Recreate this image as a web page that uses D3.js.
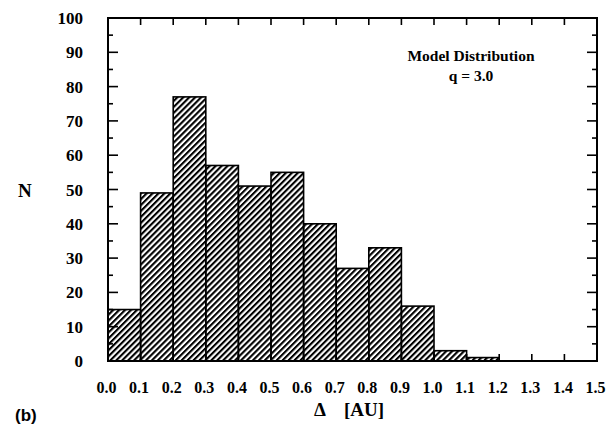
<html>
<script src='https://d3js.org/d3.v7.min.js'></script>
<style>
  body {margin: 0; background: #fff;}
  text {font-family: 'Liberation Serif', 'Times New Roman', serif; font-weight: bold; fill: #000;}
</style>
<body onload='init()'>
<svg width=613 height=424></svg>
<script>
// histogram bins: lower edge of each bin (AU) and counts
var binStart = [0.0, 0.1, 0.2, 0.3, 0.4, 0.5, 0.6, 0.7, 0.8, 0.9, 1.0, 1.1];
var counts   = [15, 49, 77, 57, 51, 55, 40, 27, 33, 16, 3, 1];
var binWidth = 0.1;
var xTicks = [0.0, 0.1, 0.2, 0.3, 0.4, 0.5, 0.6, 0.7, 0.8, 0.9, 1.0, 1.1, 1.2, 1.3, 1.4, 1.5];
var yTicks = [0, 10, 20, 30, 40, 50, 60, 70, 80, 90, 100];
var yMinor = [5, 15, 25, 35, 45, 55, 65, 75, 85, 95];

function init() {
  var svg = d3.select("svg");
  var x = d3.scaleLinear().domain([0, 1.5]).range([108, 597]);
  var y = d3.scaleLinear().domain([0, 100]).range([361, 18]);

  var defs = svg.append("defs");
  defs.append("pattern").attr("id", "hatch")
    .attr("patternUnits", "userSpaceOnUse")
    .attr("width", 4.2).attr("height", 4.2)
    .attr("patternTransform", "rotate(45)")
    .append("rect").attr("x", 0).attr("y", 0)
    .attr("width", 2.1).attr("height", 4.2).attr("fill", "#000");

  // bars
  svg.append("g").selectAll("rect").data(counts).enter().append("rect")
    .attr("x", function(d, i){ return x(binStart[i]); })
    .attr("y", function(d){ return y(d); })
    .attr("width", function(d, i){ return x(binStart[i] + binWidth) - x(binStart[i]); })
    .attr("height", function(d){ return y(0) - y(d); })
    .attr("fill", "url(#hatch)")
    .attr("stroke", "#000").attr("stroke-width", 1.6);

  // frame
  svg.append("rect")
    .attr("x", x(0)).attr("y", y(100))
    .attr("width", x(1.5) - x(0)).attr("height", y(0) - y(100))
    .attr("fill", "none").attr("stroke", "#000").attr("stroke-width", 2);

  var ax = svg.append("g").attr("stroke", "#000").attr("stroke-width", 1.6);
  // inward ticks on all four sides
  ax.selectAll(".tb").data(xTicks.slice(1, -1)).enter().append("line")
    .attr("x1", function(d){ return x(d); }).attr("x2", function(d){ return x(d); })
    .attr("y1", y(0)).attr("y2", y(0) - 7);
  ax.selectAll(".tt").data(xTicks.slice(1, -1)).enter().append("line")
    .attr("x1", function(d){ return x(d); }).attr("x2", function(d){ return x(d); })
    .attr("y1", y(100)).attr("y2", y(100) + 7);
  ax.selectAll(".yl").data(yTicks.slice(1, -1)).enter().append("line")
    .attr("x1", x(0)).attr("x2", x(0) + 10)
    .attr("y1", function(d){ return y(d); }).attr("y2", function(d){ return y(d); });
  ax.selectAll(".yr").data(yTicks.slice(1, -1)).enter().append("line")
    .attr("x1", x(1.5)).attr("x2", x(1.5) - 10)
    .attr("y1", function(d){ return y(d); }).attr("y2", function(d){ return y(d); });
  ax.selectAll(".ml").data(yMinor).enter().append("line")
    .attr("x1", x(0)).attr("x2", x(0) + 5)
    .attr("y1", function(d){ return y(d); }).attr("y2", function(d){ return y(d); });
  ax.selectAll(".mr").data(yMinor).enter().append("line")
    .attr("x1", x(1.5)).attr("x2", x(1.5) - 5)
    .attr("y1", function(d){ return y(d); }).attr("y2", function(d){ return y(d); });

  // tick labels
  svg.append("g").selectAll("text").data(yTicks).enter().append("text")
    .attr("x", 83).attr("y", function(d){ return y(d) + 6; })
    .attr("text-anchor", "end").attr("font-size", 17)
    .text(function(d){ return d; });
  svg.append("g").selectAll("text").data(xTicks).enter().append("text")
    .attr("x", function(d){ return x(d) - 1.5; }).attr("y", 393)
    .attr("text-anchor", "middle").attr("font-size", 16)
    .text(function(d){ return d.toFixed(1); });

  // axis titles
  svg.append("text").attr("x", 18).attr("y", 197).attr("font-size", 19).text("N");
  svg.append("text").attr("x", 314).attr("y", 416).attr("font-size", 19).text("\u0394");
  svg.append("text").attr("x", 344).attr("y", 416).attr("font-size", 19).text("[AU]");
  svg.append("text").attr("x", 15).attr("y", 421).attr("font-size", 17)
    .style("font-family", "'Liberation Sans', Arial, sans-serif").text("(b)");

  // annotation
  svg.append("text").attr("x", 471).attr("y", 61).attr("text-anchor", "middle")
    .attr("font-size", 15.5).text("Model Distribution");
  svg.append("text").attr("x", 471).attr("y", 81).attr("text-anchor", "middle")
    .attr("font-size", 15.5).text("q = 3.0");
}
</script>
</body>
</html>
